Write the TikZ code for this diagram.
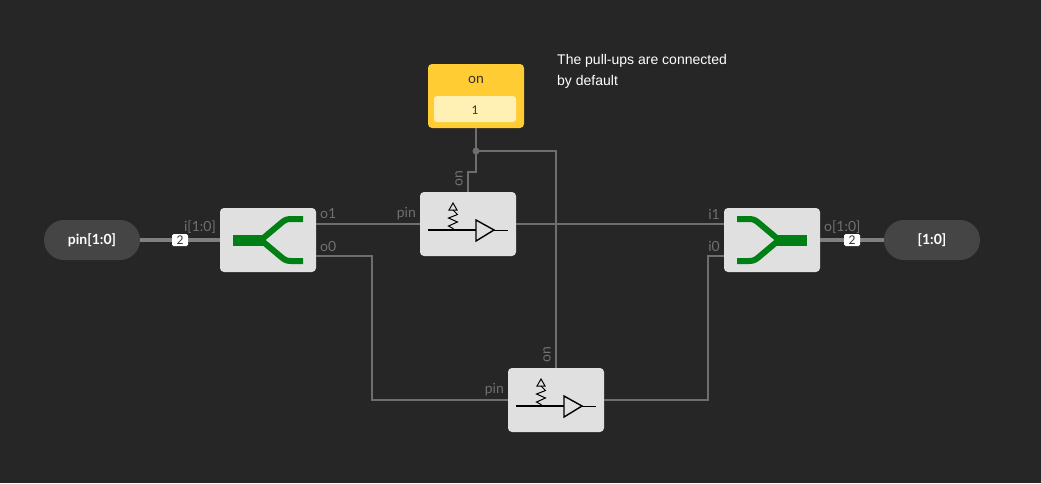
\documentclass[tikz,border=0pt]{standalone}
\usepackage{fontspec}
\setmainfont{Lato}
\newfontfamily\notefont{Liberation Sans}
\definecolor{bg}{HTML}{262626}
\definecolor{boxc}{HTML}{E0E0E0}
\definecolor{pinc}{HTML}{454545}
\definecolor{wirec}{HTML}{6E6E6E}
\definecolor{busc}{HTML}{808080}
\definecolor{lab}{HTML}{707070}
\definecolor{gr}{HTML}{007F14}
\definecolor{yel}{HTML}{FFCC33}
\definecolor{yelin}{HTML}{FFF0B3}
\tikzset{
  x=1pt,y=-1pt,
  block/.style={rectangle,fill=boxc,rounded corners=4pt,minimum width=96pt,minimum height=64pt,inner sep=0pt,outer sep=0pt},
  pinnode/.style={rectangle,fill=pinc,rounded corners=20pt,minimum width=96pt,minimum height=40pt,inner sep=0pt,outer sep=0pt,text=white,font=\fontsize{14}{14}\selectfont\bfseries},
  wire/.style={draw=wirec,line width=1.5pt},
  bus/.style={draw=busc,line width=4pt},
  branch/.style={draw=gr,line width=6pt,line join=round},
  trunk/.style={fill=gr},
  sym/.style={draw=black,line width=1.4pt},
  symt/.style={draw=black,line width=1pt,line join=miter},
  port/.style={text=lab,font=\fontsize{14}{14}\selectfont,inner sep=0pt},
  buslabel/.style={fill=white,draw=none,rounded corners=1.5pt,minimum width=16pt,minimum height=12pt,inner sep=0pt,text=black!80,font=\fontsize{12}{12}\selectfont},
  note/.style={text=white,font=\notefont\fontsize{14}{14}\selectfont,inner sep=0pt,anchor=base west},
}
\newcommand{\bufsym}[1]{%
  \begin{scope}[shift={(#1)}]
    \draw[sym] (-40,6) -- (8,6);
    \draw[symt] (26,6) -- (40,6);
    \draw[sym] (8,-4) -- (26,6) -- (8,17) -- cycle;
    \draw[symt] (-15,6) -- (-15,4.5) -- (-19.5,2) -- (-10.5,-2) -- (-19.5,-6) -- (-10.5,-9.5) -- (-15,-14);
    \draw[symt] (-15,-21) -- (-19,-14) -- (-11,-14) -- cycle;
  \end{scope}}
\begin{document}
\begin{tikzpicture}
\useasboundingbox (0,0) rectangle (1041,483);
\fill[bg] (0,0) rectangle (1041,483);
% nodes
\node[pinnode] (pinin) at (92,240) {pin[1:0]};
\node[pinnode] (pinout) at (932,240) {[1:0]};
\node[block] (split) at (268,240) {};
\node[block] (merge) at (772,240) {};
\node[block] (buf1) at (468,224) {};
\node[block] (buf0) at (556,400) {};
\node[rectangle,fill=yel,rounded corners=4pt,minimum width=96pt,minimum height=64pt,inner sep=0pt] (onblk) at (476,96) {};
\node[rectangle,fill=yelin,rounded corners=3pt,minimum width=82pt,minimum height=26pt,inner sep=0pt] (onval) at (475,109) {};
\node[text=black!80,font=\fontsize{12}{12}\selectfont,inner sep=0pt] (onnum) at (475,110) {1};
\node[text=black!80,font=\fontsize{14}{14}\selectfont,inner sep=0pt] (ontitle) at (476,80) {on};
\coordinate (dot) at (476,151);
% wires
\draw[wire] (onblk.south) -- (dot);
\draw[wire] (dot) -- (476,172) -- (468,172) -- (buf1.north);
\draw[wire] (dot) -- (556,151) -- (buf0.north);
\fill[wirec] (dot) circle (3.5);
\draw[wire] (split.east |- buf1.center) -- (buf1.west);
\draw[wire] (buf1.east) -- (merge.west |- buf1.center);
\draw[wire] (split.east |- 0,256) -- (372,256) -- (372,400) -- (buf0.west);
\draw[wire] (buf0.east) -- (708,400) -- (708,256) -- (merge.west |- 0,256);
% buses
\draw[bus] (pinin.east) -- (split.west);
\draw[bus] (merge.east) -- (pinout.west);
\node[buslabel] (b1) at (180,240) {2};
\node[buslabel] (b2) at (852,240) {2};
% splitter symbol
\fill[trunk] (233,234.5) rectangle (265,245.5);
\draw[branch] (261,240) -- (280,224) .. controls (284,220.5) and (286,219) .. (291,219) -- (303,219);
\draw[branch] (261,240) -- (280,256) .. controls (284,259.5) and (286,261) .. (291,261) -- (303,261);
% merge symbol
\fill[trunk] (775,234.5) rectangle (807,245.5);
\draw[branch] (779,240) -- (760,224) .. controls (756,220.5) and (754,219) .. (749,219) -- (737,219);
\draw[branch] (779,240) -- (760,256) .. controls (756,259.5) and (754,261) .. (749,261) -- (737,261);
% buffer symbols
\bufsym{468,224}
\bufsym{556,400}
% port labels
\node[port,anchor=east] (li) at (216,227) {i[1:0]};
\node[port,anchor=west] (lo1) at (320,214) {o1};
\node[port,anchor=west] (lo0) at (320,246) {o0};
\node[port,anchor=east] (lp1) at (416,214) {pin};
\node[port,anchor=east] (lp0) at (504,390) {pin};
\node[port,anchor=east] (li1) at (720,214) {i1};
\node[port,anchor=east] (li0) at (720,246) {i0};
\node[port,anchor=west] (lo) at (824,227) {o[1:0]};
\node[port,rotate=90] (lon1) at (459,179) {on};
\node[port,rotate=90] (lon0) at (547,355) {on};
\node[note] (n1) at (557,64) {The pull-ups are connected};
\node[note] (n2) at (557,85) {by default};
\end{tikzpicture}
\end{document}
